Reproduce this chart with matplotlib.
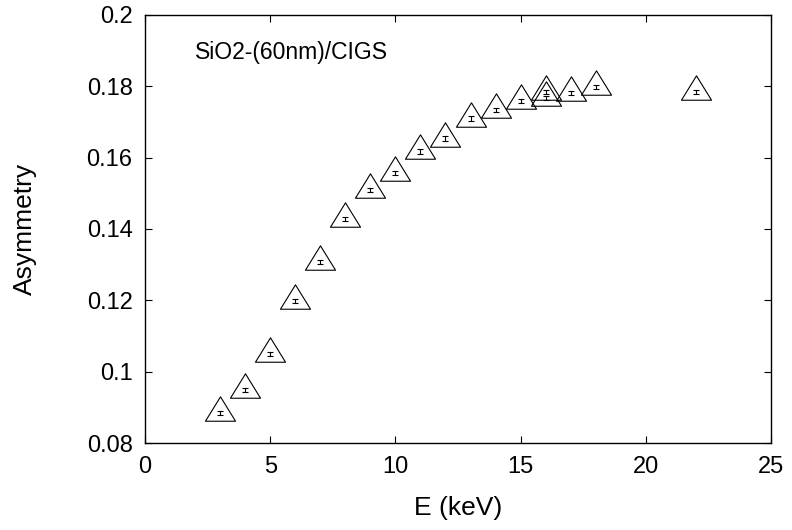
import numpy as np
import matplotlib
matplotlib.use("Agg")
import matplotlib.pyplot as plt
from matplotlib.path import Path

plt.rcParams['font.family'] = ['Liberation Sans', 'DejaVu Sans']

# ── Data ────────────────────────────────────────────────────────────
energy = [3, 4, 5, 6, 7, 8, 9, 10, 11, 12, 13, 14, 15, 16, 16, 17, 18, 22]
asym = [0.0885, 0.0950, 0.1050, 0.1198, 0.1307, 0.1427, 0.1509, 0.1557,
        0.1617, 0.1653, 0.1709, 0.1734, 0.1759, 0.1783, 0.1767, 0.1781,
        0.1797, 0.1784]
asym_err = [0.0006] * len(energy)

x_ticks = [0, 5, 10, 15, 20, 25]
y_ticks = [0.08, 0.1, 0.12, 0.14, 0.16, 0.18, 0.2]
y_ticklabels = ['0.08', '0.1', '0.12', '0.14', '0.16', '0.18', '0.2']

# gnuplot-like open triangle, data point sits low inside it
tri = Path([(-15, -7.7), (15, -7.7), (0, 16.6), (-15, -7.7)],
           [Path.MOVETO, Path.LINETO, Path.LINETO, Path.CLOSEPOLY])

fig = plt.figure(figsize=(7.92, 5.30), dpi=100)
ax = fig.add_axes([0.1831, 0.1636, 0.7904, 0.8087])

ax.plot(energy, asym, linestyle='none', marker=tri, markersize=24,
        markerfacecolor='none', markeredgecolor='black', markeredgewidth=0.8)
ax.errorbar(energy, asym, yerr=asym_err, fmt='none', ecolor='black',
            elinewidth=0.8, capsize=2.0, capthick=0.8)

ax.set_xlim(0, 25)
ax.set_ylim(0.08, 0.2)
ax.set_xticks(x_ticks)
ax.set_yticks(y_ticks)
ax.set_yticklabels(y_ticklabels)
ax.tick_params(direction='in', top=True, right=True, length=5, width=0.8,
               labelsize=17, pad=9)
for s in ax.spines.values():
    s.set_linewidth(1.0)

ax.set_xlabel('E (keV)', fontsize=19, labelpad=13)
ax.set_ylabel('Asymmetry', fontsize=19, labelpad=36)
ax.text(0.08, 0.912, 'SiO2-(60nm)/CIGS', transform=ax.transAxes,
        fontsize=16.5, va='center', ha='left')

fig.savefig('out.png', dpi=100)
